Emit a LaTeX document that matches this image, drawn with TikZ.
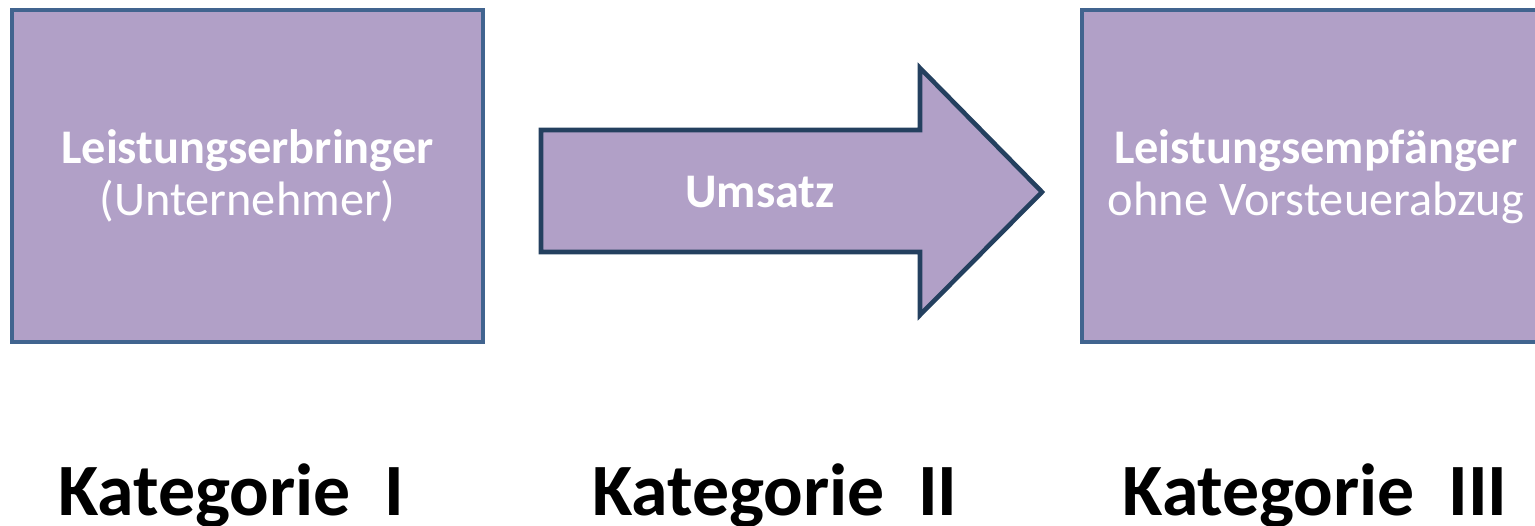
\documentclass[tikz,border=0pt]{standalone}
\usepackage{fontspec}
\setmainfont{Carlito}
\definecolor{boxfill}{HTML}{B1A0C7}
\definecolor{boxline}{HTML}{41648F}
\definecolor{arrowline}{HTML}{24405F}
\begin{document}
\begin{tikzpicture}[x=0.02cm,y=-0.02cm,
  party/.style={draw=boxline,fill=boxfill,line width=2.7pt,
    minimum width=9.42cm,minimum height=6.64cm,inner sep=0pt},
  boxtext/.style={anchor=base,inner sep=0pt,text=white,
    font=\fontsize{27.5}{33}\selectfont},
  category/.style={anchor=base,inner sep=0pt,
    font=\fontsize{42}{50}\selectfont\bfseries}]
  \useasboundingbox (0,0) rectangle (1535,525);
  \clip (0,0) rectangle (1535,525);

  % supplier and recipient
  \node[party] (supplier) at (247.5,176) {};
  \node[party] (recipient) at (1317.5,176) {};
  \node[boxtext,font=\fontsize{27.5}{33}\selectfont\bfseries] (supplier-name)
    at (247.5,163) {Leistungserbringer};
  \node[boxtext] (supplier-role) at (247.5,215) {(Unternehmer)};
  \node[boxtext,font=\fontsize{27.5}{33}\selectfont\bfseries] (recipient-name)
    at (1316,163) {Leistungsempfänger};
  \node[boxtext] (recipient-role) at (1316,215) {ohne Vorsteuerabzug};

  % turnover arrow
  \draw[draw=arrowline,fill=boxfill,line width=2.6pt,line join=miter]
    (541,130) -- (920,130) -- (920,68) -- (1042,192)
    -- (920,315) -- (920,252) -- (541,252) -- cycle;
  \node[boxtext,font=\fontsize{27.5}{33}\selectfont\bfseries] (turnover)
    at (760,207) {Umsatz};

  % category captions
  \node[category] (cat1) at (231,515) {Kategorie\ \ I};
  \node[category] (cat2) at (775,515) {Kategorie\ \ II};
  \node[category] (cat3) at (1315,515) {Kategorie\ \ III};
\end{tikzpicture}
\end{document}
